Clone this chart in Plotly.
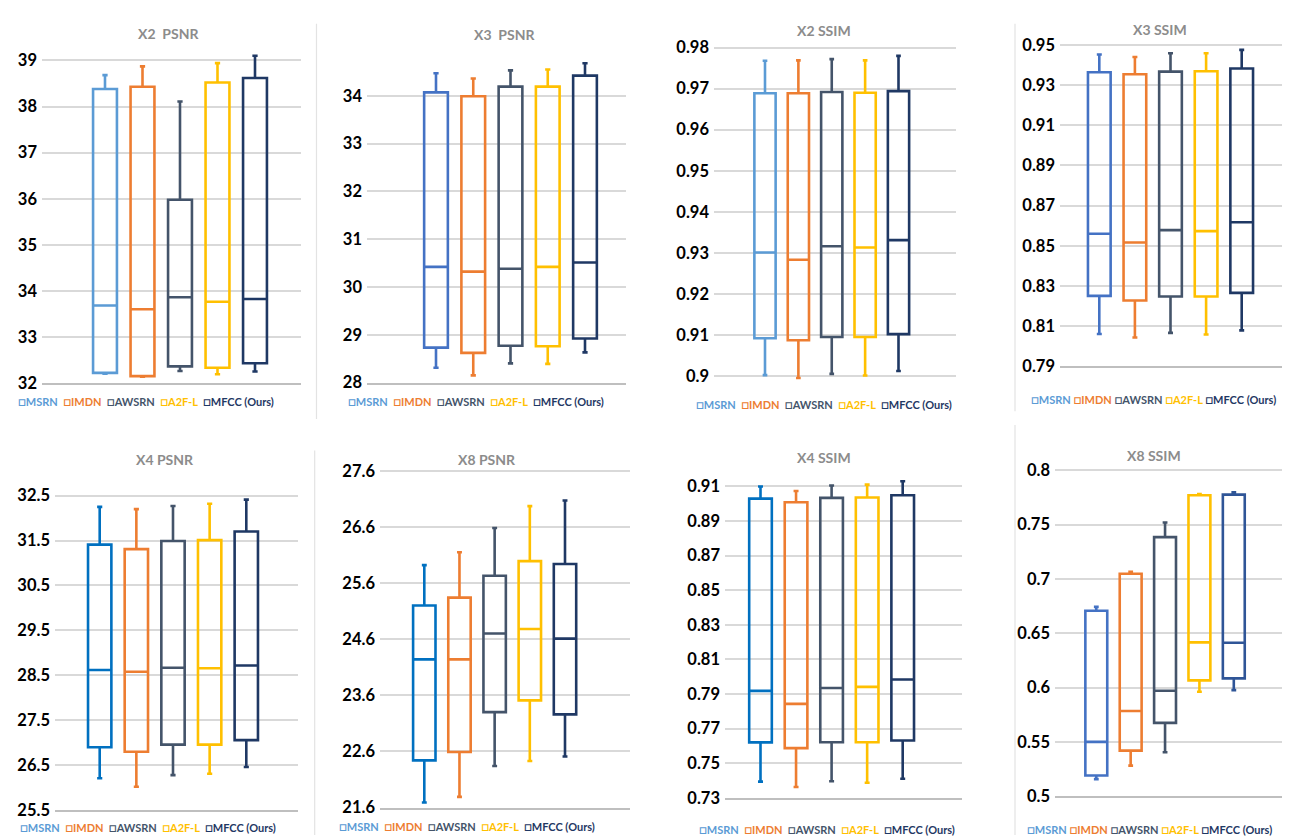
import plotly.graph_objects as go

W, H = 1290, 837

methods = ["MSRN", "IMDN", "AWSRN", "A2F-L", "MFCC (Ours)"]
legend_colors = ["#5B9BD5", "#ED7D31", "#44546A", "#FFC000", "#1F3864"]

# ---------------- data ----------------
titles = ["X2  PSNR", "X3  PSNR", "X2 SSIM", "X3 SSIM", "X4 PSNR", "X8 PSNR", "X4 SSIM", "X8 SSIM"]

x2_psnr_lower = [32.21, 32.15, 32.27, 32.20, 32.26]
x2_psnr_q1 = [32.23, 32.16, 32.37, 32.34, 32.44]
x2_psnr_median = [33.69, 33.61, 33.87, 33.77, 33.83]
x2_psnr_q3 = [38.38, 38.43, 35.98, 38.52, 38.62]
x2_psnr_upper = [38.68, 38.87, 38.11, 38.94, 39.10]

x3_psnr_lower = [28.31, 28.15, 28.40, 28.39, 28.63]
x3_psnr_q1 = [28.73, 28.62, 28.77, 28.76, 28.92]
x3_psnr_median = [30.42, 30.32, 30.38, 30.42, 30.51]
x3_psnr_q3 = [34.07, 33.99, 34.19, 34.19, 34.42]
x3_psnr_upper = [34.47, 34.36, 34.53, 34.55, 34.68]

x2_ssim_lower = [0.9002, 0.8995, 0.9005, 0.9001, 0.9012]
x2_ssim_q1 = [0.9092, 0.9087, 0.9095, 0.9095, 0.9102]
x2_ssim_median = [0.9301, 0.9283, 0.9316, 0.9313, 0.9331]
x2_ssim_q3 = [0.9689, 0.9689, 0.9692, 0.9690, 0.9694]
x2_ssim_upper = [0.9768, 0.9769, 0.9772, 0.9769, 0.9780]

x3_ssim_lower = [0.8060, 0.8043, 0.8066, 0.8058, 0.8078]
x3_ssim_q1 = [0.8250, 0.8227, 0.8247, 0.8247, 0.8265]
x3_ssim_median = [0.8560, 0.8516, 0.8578, 0.8573, 0.8617]
x3_ssim_q3 = [0.9365, 0.9355, 0.9368, 0.9370, 0.9383]
x3_ssim_upper = [0.9453, 0.9441, 0.9459, 0.9459, 0.9476]

x4_psnr_lower = [26.21, 26.02, 26.28, 26.31, 26.46]
x4_psnr_q1 = [26.90, 26.80, 26.96, 26.96, 27.06]
x4_psnr_median = [28.62, 28.58, 28.67, 28.66, 28.72]
x4_psnr_q3 = [31.41, 31.31, 31.49, 31.51, 31.70]
x4_psnr_upper = [32.25, 32.20, 32.27, 32.32, 32.41]

x8_psnr_lower = [21.69, 21.79, 22.34, 22.43, 22.51]
x8_psnr_q1 = [22.44, 22.59, 23.30, 23.51, 23.26]
x8_psnr_median = [24.24, 24.24, 24.70, 24.78, 24.61]
x8_psnr_q3 = [25.20, 25.34, 25.73, 25.99, 25.94]
x8_psnr_upper = [25.92, 26.15, 26.58, 26.97, 27.07]

x4_ssim_lower = [0.7393, 0.7362, 0.7395, 0.7387, 0.7410]
x4_ssim_q1 = [0.7620, 0.7587, 0.7621, 0.7621, 0.7631]
x4_ssim_median = [0.7918, 0.7843, 0.7935, 0.7941, 0.7984]
x4_ssim_q3 = [0.9030, 0.9009, 0.9034, 0.9036, 0.9049]
x4_ssim_upper = [0.9100, 0.9074, 0.9106, 0.9111, 0.9130]

x8_ssim_lower = [0.5159, 0.5283, 0.5406, 0.5962, 0.5977]
x8_ssim_q1 = [0.5192, 0.5421, 0.5676, 0.6067, 0.6085]
x8_ssim_median = [0.5502, 0.5785, 0.5971, 0.6416, 0.6413]
x8_ssim_q3 = [0.6707, 0.7047, 0.7384, 0.7769, 0.7775]
x8_ssim_upper = [0.6743, 0.7065, 0.7519, 0.7781, 0.7796]

# tick labels
x2_psnr_ticks = [32, 33, 34, 35, 36, 37, 38, 39]
x2_psnr_ticktext = ["32", "33", "34", "35", "36", "37", "38", "39"]
x3_psnr_ticks = [28, 29, 30, 31, 32, 33, 34, 35]
x3_psnr_ticktext = ["28", "29", "30", "31", "32", "33", "34", ""]
x2_ssim_ticks = [0.90, 0.91, 0.92, 0.93, 0.94, 0.95, 0.96, 0.97, 0.98]
x2_ssim_ticktext = ["0.9", "0.91", "0.92", "0.93", "0.94", "0.95", "0.96", "0.97", "0.98"]
x3_ssim_ticks = [0.79, 0.81, 0.83, 0.85, 0.87, 0.89, 0.91, 0.93, 0.95]
x3_ssim_ticktext = ["0.79", "0.81", "0.83", "0.85", "0.87", "0.89", "0.91", "0.93", "0.95"]
x4_psnr_ticks = [25.5, 26.5, 27.5, 28.5, 29.5, 30.5, 31.5, 32.5]
x4_psnr_ticktext = ["25.5", "26.5", "27.5", "28.5", "29.5", "30.5", "31.5", "32.5"]
x8_psnr_ticks = [21.6, 22.6, 23.6, 24.6, 25.6, 26.6, 27.6]
x8_psnr_ticktext = ["21.6", "22.6", "23.6", "24.6", "25.6", "26.6", "27.6"]
x4_ssim_ticks = [0.73, 0.75, 0.77, 0.79, 0.81, 0.83, 0.85, 0.87, 0.89, 0.91]
x4_ssim_ticktext = ["0.73", "0.75", "0.77", "0.79", "0.81", "0.83", "0.85", "0.87", "0.89", "0.91"]
x8_ssim_ticks = [0.5, 0.55, 0.6, 0.65, 0.7, 0.75, 0.8]
x8_ssim_ticktext = ["0.5", "0.55", "0.6", "0.65", "0.7", "0.75", "0.8"]

panel_data = [
    (x2_psnr_lower, x2_psnr_q1, x2_psnr_median, x2_psnr_q3, x2_psnr_upper, x2_psnr_ticks, x2_psnr_ticktext),
    (x3_psnr_lower, x3_psnr_q1, x3_psnr_median, x3_psnr_q3, x3_psnr_upper, x3_psnr_ticks, x3_psnr_ticktext),
    (x2_ssim_lower, x2_ssim_q1, x2_ssim_median, x2_ssim_q3, x2_ssim_upper, x2_ssim_ticks, x2_ssim_ticktext),
    (x3_ssim_lower, x3_ssim_q1, x3_ssim_median, x3_ssim_q3, x3_ssim_upper, x3_ssim_ticks, x3_ssim_ticktext),
    (x4_psnr_lower, x4_psnr_q1, x4_psnr_median, x4_psnr_q3, x4_psnr_upper, x4_psnr_ticks, x4_psnr_ticktext),
    (x8_psnr_lower, x8_psnr_q1, x8_psnr_median, x8_psnr_q3, x8_psnr_upper, x8_psnr_ticks, x8_psnr_ticktext),
    (x4_ssim_lower, x4_ssim_q1, x4_ssim_median, x4_ssim_q3, x4_ssim_upper, x4_ssim_ticks, x4_ssim_ticktext),
    (x8_ssim_lower, x8_ssim_q1, x8_ssim_median, x8_ssim_q3, x8_ssim_upper, x8_ssim_ticks, x8_ssim_ticktext),
]

# ---------------- styling / geometry (pixels) ----------------
panel_colors = [
    ["#5B9BD5", "#ED7D31", "#44546A", "#FFC000", "#1F3864"],
    ["#4472C4", "#ED7D31", "#44546A", "#FFC000", "#1F3864"],
    ["#5B9BD5", "#ED7D31", "#44546A", "#FFC000", "#1F3864"],
    ["#4472C4", "#ED7D31", "#44546A", "#FFC000", "#1F3864"],
    ["#0070C0", "#ED7D31", "#44546A", "#FFC000", "#1F3864"],
    ["#0070C0", "#ED7D31", "#44546A", "#FFC000", "#1F3864"],
    ["#0070C0", "#ED7D31", "#44546A", "#FFC000", "#1F3864"],
    ["#4472C4", "#ED7D31", "#44546A", "#FFC000", "#2F5597"],
]
# plot-area left, right, first box centre, last box centre
x_geom = [
    (34, 293, 97, 247),
    (359, 618, 428, 577),
    (706, 948, 757, 890.5),
    (1052, 1285, 1091.3, 1233.7),
    (47, 290, 91.7, 238.3),
    (372, 622, 416.3, 557),
    (717, 954, 752.5, 894.7),
    (1047, 1290, 1088.3, 1225.8),
]
# pixel of lowest tick, pixel of highest tick, axis range (lo, hi)
y_geom = [
    (376.7, 47.3, (32, 39.25)),
    (375.7, 34.6, (28, 35.02)),
    (369.0, 34.3, (0.899, 0.982)),
    (359.0, 31.7, (0.79, 0.952)),
    (811.7, 491.0, (25.5, 32.7)),
    (809.0, 465.7, (21.6, 27.7)),
    (799.0, 481.7, (0.73, 0.916)),
    (797.7, 465.0, (0.5, 0.805)),
]
title_pos = [(160, 20), (496, 21), (816, 17), (1152, 16), (157, 454), (479, 454), (816, 452), (1146, 450)]
# legend: left edge x, centre y, separator between items
legend_pos = [(8, 395, "&nbsp; "), (338, 395, "&nbsp; "), (686, 398, "&nbsp; "), (1021, 392, " "),
              (10, 829, "&nbsp; "), (329, 828, "&nbsp; "), (689, 831, "&nbsp; "), (1017, 831, " ")]

fig = go.Figure()
layout = dict(
    width=W, height=H,
    margin=dict(l=0, r=0, t=0, b=0),
    paper_bgcolor="white", plot_bgcolor="white",
    showlegend=False, boxgap=0.09, boxmode="overlay",
    annotations=[], shapes=[],
)

for p, (lo_, q1_, med_, q3_, up_, tv, tt) in enumerate(panel_data):
    k = "" if p == 0 else str(p + 1)
    for i, m in enumerate(methods):
        fig.add_trace(go.Box(
            x=[m], q1=[q1_[i]], median=[med_[i]], q3=[q3_[i]],
            lowerfence=[lo_[i]], upperfence=[up_[i]],
            name=m, xaxis="x" + k, yaxis="y" + k,
            line=dict(color=panel_colors[p][i], width=2.6),
            fillcolor="rgba(0,0,0,0)", whiskerwidth=0.22,
            boxpoints=False, hoverinfo="y+name",
        ))
    left, right, c0, c4 = x_geom[p]
    sp = (c4 - c0) / 4
    xr = [-(c0 - left) / sp, 4 + (right - c4) / sp]
    pmin, pmax, (rlo, rhi) = y_geom[p]
    vmin, vmax = tv[0], tv[-1]
    scale = (pmin - pmax) / (vmax - vmin)
    bottom_px = pmin + (vmin - rlo) * scale
    top_px = pmin - (rhi - vmin) * scale
    layout["xaxis" + k] = dict(
        domain=[left / W, right / W], anchor="y" + k, range=xr,
        type="category", categoryorder="array", categoryarray=methods,
        showticklabels=False, showgrid=False, zeroline=False,
        showline=(p != 2), linecolor="#BFBFBF", linewidth=1.5, ticks="",
    )
    layout["yaxis" + k] = dict(
        domain=[max(0, 1 - bottom_px / H), min(1, 1 - top_px / H)], anchor="x" + k, range=[rlo, rhi],
        tickvals=tv, ticktext=tt, showgrid=True, gridcolor="#D9D9D9", gridwidth=1.5,
        zeroline=False, showline=False, ticks="", ticklabelstandoff=4,
        tickfont=dict(family="Lato", size=16.5, color="#000000", weight="bold"),
    )
    tx, ty = title_pos[p]
    layout["annotations"].append(dict(
        text=titles[p].replace(" ", "&nbsp;"), x=tx / W, y=1 - ty / H, xref="paper", yref="paper",
        showarrow=False, xanchor="center", yanchor="middle",
        font=dict(family="Lato", size=14, color="#8C8C8C", weight="bold"),
    ))
    lx, ly, sep = legend_pos[p]
    parts = ['<span style="color:%s;font-size:13px">□</span><span style="color:%s">%s</span>' % (c, c, m)
             for c, m in zip(legend_colors, methods)]
    layout["annotations"].append(dict(
        text=sep.join(parts), x=lx / W, y=1 - ly / H, xref="paper", yref="paper",
        showarrow=False, xanchor="left", yanchor="middle", align="left",
        font=dict(family="Lato", size=11, weight="bold"),
    ))

# thin panel border lines
borders = [(308.5, 10, 413), (1007, 10, 405), (306.7, 445, 837), (1007, 419, 837)]
for bx, by0, by1 in borders:
    layout["shapes"].append(dict(
        type="line", xref="paper", yref="paper", x0=bx / W, x1=bx / W,
        y0=1 - by0 / H, y1=1 - by1 / H, line=dict(color="#E3E3E3", width=1.2),
    ))

fig.update_layout(**layout)
fig.write_html("out.html")
